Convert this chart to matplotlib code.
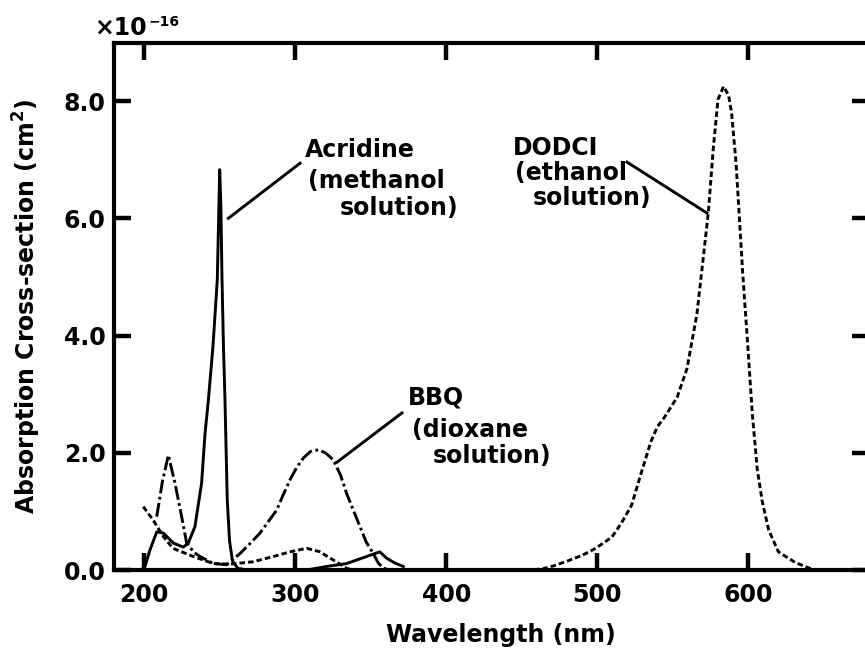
import matplotlib
matplotlib.use("Agg")
import matplotlib.pyplot as plt

plt.rcParams.update({
    "font.family": ["DejaVu Sans"],
    "font.weight": "bold",
    "lines.scale_dashes": False,
})

# --- data (wavelength in nm, cross-section in 1e-16 cm^2) ---
acr_nm = [198, 200.5, 203.8, 208.3, 212.7, 219.3, 225.9, 229.2, 233.6, 238,
          240.3, 242.5, 245.5, 248.4, 249.3, 250.0, 250.8, 251.5, 252.5, 253.5,
          255, 256.5, 258.5, 262, 268, 300, 307.6, 320.8, 334, 347.3,
          356, 360.6, 366, 371.6]
acr_val = [0.0, 0.06, 0.34, 0.65, 0.63, 0.46, 0.39, 0.46, 0.74, 1.48,
           2.33, 2.9, 3.8, 4.95, 6.0, 6.83, 6.2, 5.0, 3.8, 2.9,
           1.2, 0.5, 0.15, 0.03, 0.0, 0.0, 0.0, 0.06, 0.11, 0.23,
           0.31, 0.2, 0.12, 0.06]

bbq_nm = [208.3, 212, 216, 220.4, 224.8, 228.1, 233, 237, 245.8, 254.6,
          263.4, 270, 276.7, 282, 287.7, 292, 296.6, 301, 305.4, 310,
          315.3, 320, 325.2, 330, 334, 338.5, 342.9, 347, 351.7, 355,
          358.4, 363]
bbq_val = [0.91, 1.5, 1.96, 1.48, 0.91, 0.46, 0.3, 0.23, 0.11, 0.09,
           0.28, 0.45, 0.63, 0.82, 1.02, 1.28, 1.54, 1.75, 1.91, 2.02,
           2.05, 2.0, 1.88, 1.62, 1.31, 1.02, 0.74, 0.48, 0.28, 0.12,
           0.03, 0.0]

dod_nm = [199.4, 206, 212.7, 219, 232.5, 245.8, 256.8, 272, 285.5, 296.6,
          307.6, 316.4, 325.2, 334, 338, 400, 455, 464, 471, 480,
          490, 499, 509.7, 516, 522.7, 529.2, 535.7, 540, 544.4, 553, 559.5,
          566, 570.3, 573.6, 576.8, 580, 583.7, 587, 589, 592, 596.3,
          599.6, 602.8, 606, 609.3, 613.6, 620, 631, 639.6, 644]
dod_val = [1.08, 0.85, 0.57, 0.37, 0.23, 0.11, 0.1, 0.14, 0.23, 0.31,
           0.37, 0.31, 0.17, 0.03, 0.0, 0.0, 0.0, 0.02, 0.07, 0.15,
           0.25, 0.37, 0.56, 0.8, 1.1, 1.66, 2.2, 2.45, 2.6, 2.95, 3.44,
           4.36, 5.34, 6.1, 7.17, 8.03, 8.25, 8.1, 7.8, 6.93, 5.09,
           3.87, 2.64, 1.72, 1.17, 0.68, 0.31, 0.13, 0.04, 0.0]

x_ticks = [200, 300, 400, 500, 600]
y_ticks = [0, 2, 4, 6, 8]
y_tick_labels = ["0.0", "2.0", "4.0", "6.0", "8.0"]

W, H = 865, 650
FS = 17
fig = plt.figure(figsize=(W / 100, H / 100), dpi=100)
ax = fig.add_axes([114 / W, 80 / H, 755 / W, 527.5 / H])

ax.plot(acr_nm, acr_val, color="black", lw=2.1)
ax.plot(bbq_nm, bbq_val, color="black", lw=2.1, dashes=(10, 2.5, 2, 2.5))
ax.plot(dod_nm, dod_val, color="black", lw=2.1, dashes=(4, 2.2))

ax.set_xlim(180, 680)
ax.set_ylim(0, 9.0)
ax.set_xticks(x_ticks)
ax.set_yticks(y_ticks)
ax.set_yticklabels(y_tick_labels)
ax.tick_params(direction="in", length=12, width=3.2, top=True, right=True,
               labelsize=FS, pad=6)
ax.tick_params(axis="x", pad=9)
for s in ax.spines.values():
    s.set_linewidth(3.0)

ax.set_xlabel("Wavelength (nm)", fontsize=FS, fontweight="bold")
ax.xaxis.set_label_coords(0.513, -0.101)
ax.set_ylabel("Absorption Cross-section (cm$^\\mathbf{2}$)", fontsize=FS,
              fontweight="bold")
ax.yaxis.set_label_coords(-0.094, 0.5)

# scale multiplier above the axis
fig.text(147 / W, 1 - 35 / H, "\u00d710", fontsize=FS, fontweight="bold",
         ha="right", va="baseline")
fig.text(149 / W, 1 - 26 / H, "\u221216", fontsize=10, fontweight="bold",
         ha="left", va="baseline")

# labels with leader lines
lab = dict(fontsize=FS, fontweight="bold", va="center", ha="left")
ax.text(306.5, 7.17, "Acridine", **lab)
ax.text(308.5, 6.64, "(methanol", **lab)
ax.text(329.7, 6.18, "solution)", **lab)
ax.plot([255.7, 303.2], [6.0, 6.94], color="black", lw=2.1)

ax.text(374.7, 2.94, "BBQ", **lab)
ax.text(377.4, 2.39, "(dioxane", **lab)
ax.text(391.3, 1.95, "solution)", **lab)
ax.plot([327.7, 370.7], [1.84, 2.68], color="black", lw=2.1)

ax.text(444.2, 7.2, "DODCI", **lab)
ax.text(445.6, 6.77, "(ethanol", **lab)
ax.text(457.6, 6.35, "solution)", **lab)
ax.plot([519.7, 572.7], [6.96, 6.09], color="black", lw=2.1)

fig.savefig("out.png", dpi=100)
